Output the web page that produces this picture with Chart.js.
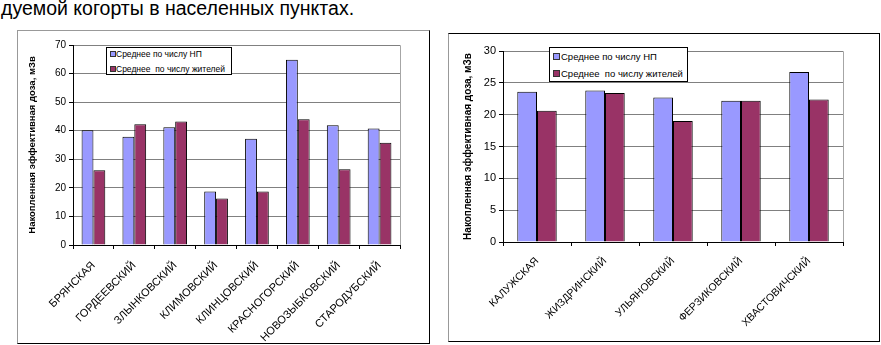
<!DOCTYPE html>
<html>
<head>
<meta charset="utf-8">
<script src="https://cdn.jsdelivr.net/npm/chart.js@4/dist/chart.umd.min.js"></script>
<style>
body { margin: 0; width: 881px; height: 345px; background: #fff; position: relative; overflow: hidden; font-family: "Liberation Sans", Arial, sans-serif; }
#heading { position: absolute; left: 1px; top: -1px; font-size: 19.5px; line-height: 19.5px; white-space: nowrap; color: #000; }
.frame { position: absolute; box-sizing: border-box; }
.chart { position: absolute; }
.legend { position: absolute; background: #fff; border: 1px solid #000; box-sizing: border-box; }
.legend .row { position: absolute; white-space: pre; color: #000; }
.legend .sw { position: absolute; border: 1px solid #333; box-sizing: border-box; }
</style>
</head>
<body>
<div id="heading">дуемой когорты в населенных пунктах.</div>

<div class="frame" style="left:17px;top:30px;width:413px;height:314px;border-left:1px solid #999;border-top:1px solid #999;border-right:1px solid #000;border-bottom:1px solid #000;"></div>
<div class="chart" style="left:17px;top:30px;"><canvas id="leftChart" width="412" height="313"></canvas></div>
<div class="legend" id="leftLegend" style="left:106px;top:47px;width:126px;height:28px;"></div>

<div class="frame" style="left:448px;top:33px;width:432px;height:309px;border-left:1px solid #999;border-top:1px solid #000;border-right:1px solid #000;border-bottom:1px solid #000;"></div>
<div class="chart" style="left:448px;top:33px;"><canvas id="rightChart" width="431" height="308"></canvas></div>
<div class="legend" id="rightLegend" style="left:549px;top:47px;width:139px;height:35px;"></div>

<script>
// Series names and colours (same for both charts)
const SERIES = ["Среднее по числу НП", "Среднее  по числу жителей"];
const COLORS = ["#9999FF", "#993366"];
const Y_TITLE = "Накопленная эффективная доза, мЗв";

// Left chart: Брянская область
const bryanskLabels = ["БРЯНСКАЯ", "ГОРДЕЕВСКИЙ", "ЗЛЫНКОВСКИЙ", "КЛИМОВСКИЙ", "КЛИНЦОВСКИЙ", "КРАСНОГОРСКИЙ", "НОВОЗЫБКОВСКИЙ", "СТАРОДУБСКИЙ"];
const bryanskNP = [40.2, 37.9, 41.2, 18.7, 37.2, 64.8, 41.9, 40.8];
const bryanskResidents = [26.2, 42.3, 43.2, 16.3, 18.7, 44.0, 26.5, 35.8];
const bryanskYMax = 70;
const bryanskYStep = 10;

// Right chart: Калужская область
const kalugaLabels = ["КАЛУЖСКАЯ", "ЖИЗДРИНСКИЙ", "УЛЬЯНОВСКИЙ", "ФЕРЗИКОВСКИЙ", "ХВАСТОВИЧСКИЙ"];
const kalugaNP = [23.6, 23.8, 22.7, 22.2, 26.7];
const kalugaResidents = [20.6, 23.4, 19.0, 22.2, 22.4];
const kalugaYMax = 30;
const kalugaYStep = 5;

const FONT = "'Liberation Sans', Arial, sans-serif";

// gray frame on top and right of the plot area, drawn under the axes
const plotFrame = {
    id: "plotFrame",
    beforeDraw(chart) {
        const ctx = chart.ctx;
        const a = chart.chartArea;
        ctx.save();
        ctx.strokeStyle = "#a6a6a6";
        ctx.lineWidth = 1;
        ctx.beginPath();
        ctx.moveTo(Math.round(a.left) + 0.5, Math.round(a.top) + 0.5);
        ctx.lineTo(Math.round(a.right) + 0.5, Math.round(a.top) + 0.5);
        ctx.lineTo(Math.round(a.right) + 0.5, Math.round(a.bottom) + 0.5);
        ctx.stroke();
        ctx.restore();
    }
};

function makeChart(id, labels, np, residents, yMax, yStep, layout) {
    return new Chart(document.getElementById(id), {
        type: "bar",
        data: {
            labels: labels,
            datasets: [np, residents].map(function (values, i) {
                return {
                    label: SERIES[i],
                    data: values,
                    backgroundColor: COLORS[i],
                    borderColor: "#000",
                    borderWidth: 1,
                    categoryPercentage: 0.58,
                    barPercentage: 1
                };
            })
        },
        options: {
            responsive: false,
            animation: false,
            layout: { padding: { top: layout.top, right: layout.right, left: 0, bottom: 0 } },
            plugins: { legend: { display: false }, tooltip: { enabled: false } },
            scales: {
                x: {
                    grid: { offset: true, drawOnChartArea: false, drawTicks: true, tickLength: 4, tickColor: "#000" },
                    border: { color: "#000" },
                    ticks: {
                        color: "#000",
                        font: { family: FONT, size: layout.xFont },
                        minRotation: 45,
                        maxRotation: 45,
                        autoSkip: false,
                        padding: layout.xPad
                    },
                    afterFit: function (scale) { scale.height = layout.xHeight; }
                },
                y: {
                    min: 0,
                    max: yMax,
                    ticks: { stepSize: yStep, color: "#000", font: { family: FONT, size: layout.yFont }, padding: 3 },
                    grid: { color: "#808080", tickLength: 4, tickColor: "#000" },
                    border: { color: "#000" },
                    title: {
                        display: true,
                        text: Y_TITLE,
                        color: "#000",
                        font: { family: FONT, size: layout.titleFont, weight: "bold" },
                        padding: { top: layout.titlePad, bottom: 0 }
                    },
                    afterFit: function (scale) { scale.width = layout.yWidth; }
                }
            }
        },
        plugins: [plotFrame]
    });
}

function makeLegend(id, rows, sw, swLeft, textLeft, fontSize) {
    const box = document.getElementById(id);
    SERIES.forEach(function (name, i) {
        const s = document.createElement("div");
        s.className = "sw";
        s.style.cssText = "left:" + swLeft + "px;top:" + (rows[i] - sw / 2) + "px;width:" + sw + "px;height:" + sw + "px;background:" + COLORS[i] + ";";
        box.appendChild(s);
        const t = document.createElement("div");
        t.className = "row";
        t.textContent = name;
        t.style.cssText = "left:" + textLeft + "px;top:" + (rows[i] - fontSize * 0.6) + "px;font-size:" + fontSize + "px;line-height:" + (fontSize * 1.2) + "px;";
        box.appendChild(t);
    });
}

makeChart("leftChart", bryanskLabels, bryanskNP, bryanskResidents, bryanskYMax, bryanskYStep,
    { top: 15, right: 29, xHeight: 98, yWidth: 56, xFont: 11, yFont: 10, titleFont: 9.5, titlePad: 10, xPad: 10 });
makeChart("rightChart", kalugaLabels, kalugaNP, kalugaResidents, kalugaYMax, kalugaYStep,
    { top: 18, right: 36, xHeight: 99, yWidth: 55, xFont: 10.5, yFont: 11, titleFont: 10, titlePad: 14, xPad: 9 });

makeLegend("leftLegend", [6.3, 21], 6, 3, 9, 8.5);
makeLegend("rightLegend", [8.7, 25.3], 7, 3, 11, 9.5);
</script>
</body>
</html>
